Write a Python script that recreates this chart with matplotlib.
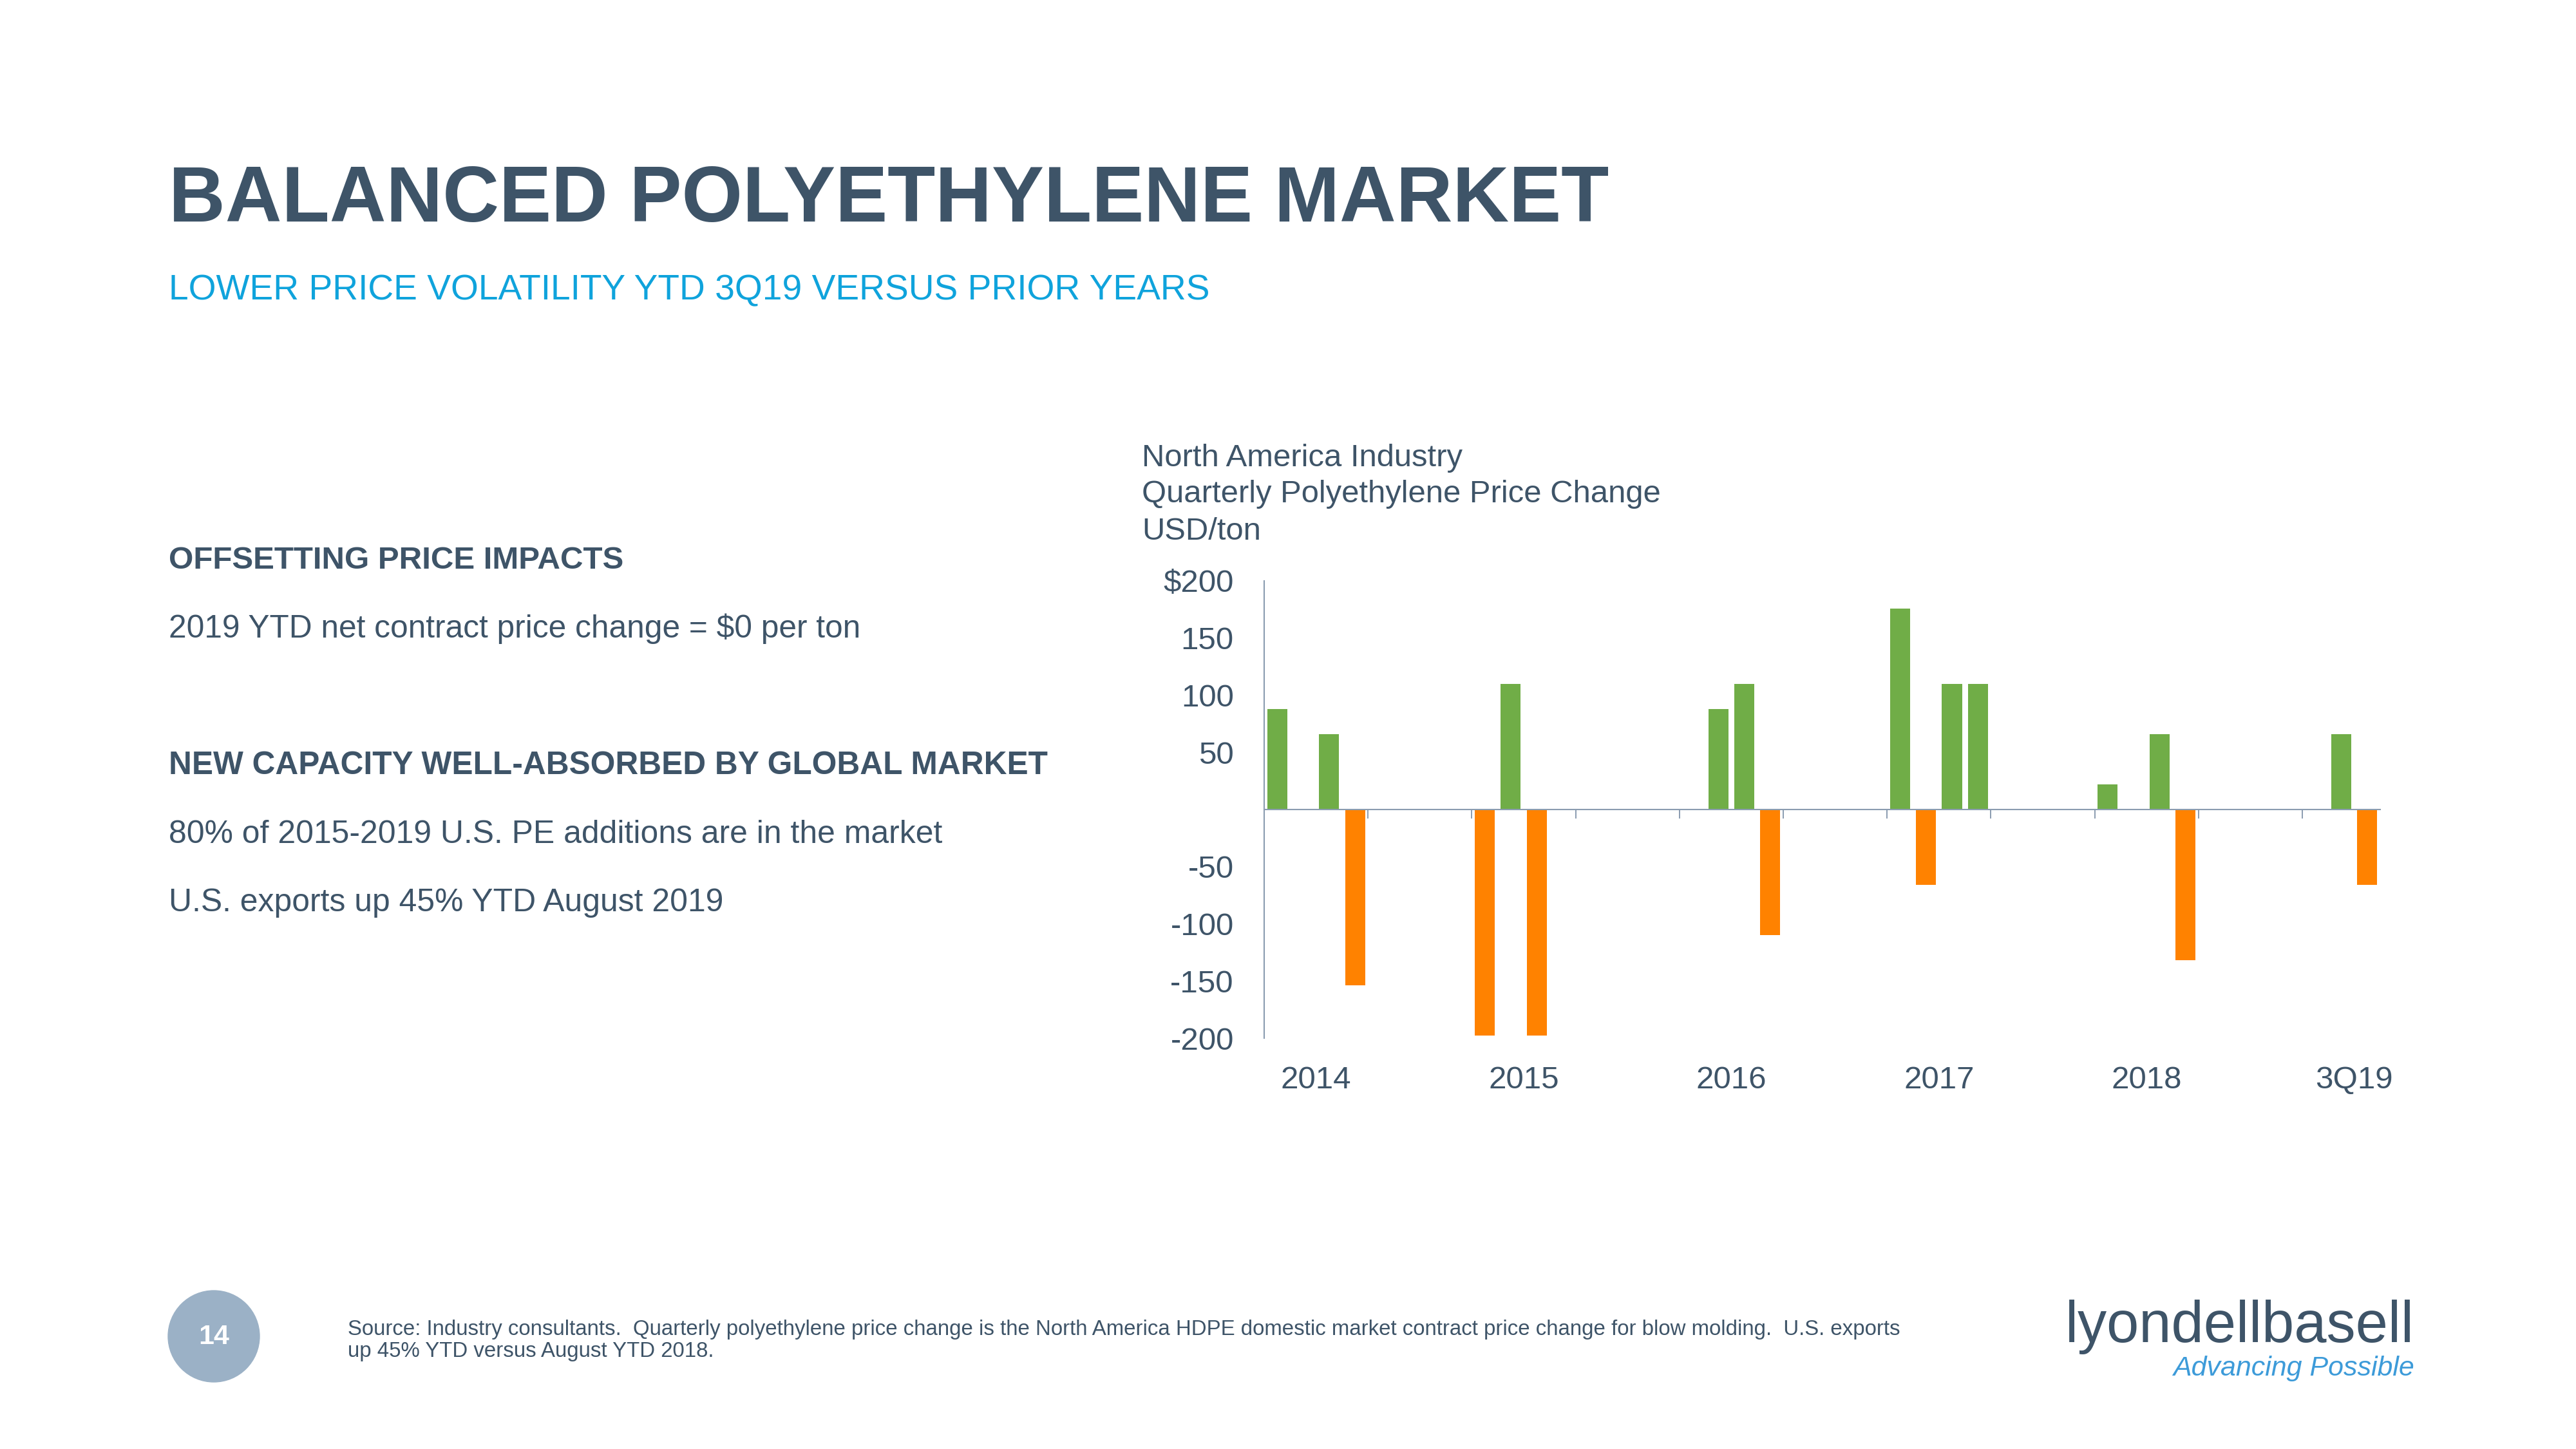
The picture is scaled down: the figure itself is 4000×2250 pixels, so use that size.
import numpy as np
import matplotlib
matplotlib.use("Agg")
import matplotlib.pyplot as plt
from matplotlib.patches import Ellipse

# quarterly PE contract price change, USD/ton
years = ["2014", "2015", "2016", "2017", "2018", "3Q19"]
q_2014 = [88, 0, 66, -154]
q_2015 = [-198, 110, -198, 0]
q_2016 = [0, 88, 110, -110]
q_2017 = [176, -66, 110, 110]
q_2018 = [22, 0, 66, -132]
q_2019 = [0, 66, -66]
quarterly = [q_2014, q_2015, q_2016, q_2017, q_2018, q_2019]

y_ticks = [200, 150, 100, 50, -50, -100, -150, -200]
y_labels = ["$200", "150", "100", "50", "-50", "-100", "-150", "-200"]

GREEN = "#70AD47"
ORANGE = "#FF8200"
DARK = "#3E5468"
CYAN = "#0FA3DC"
AXIS = "#8A9CB0"

plt.rcParams["font.family"] = ["Liberation Sans", "DejaVu Sans"]

W, H = 4000, 2250
fig = plt.figure(figsize=(40, 22.5), dpi=100)

def fx(px):
    return px / W

def fy(py):
    return 1 - py / H

# header
fig.text(fx(262), fy(344), "BALANCED POLYETHYLENE MARKET", fontsize=87.5,
         fontweight="bold", color=DARK, va="baseline")
fig.text(fx(262), fy(465), "LOWER PRICE VOLATILITY YTD 3Q19 VERSUS PRIOR YEARS",
         fontsize=39.7, color=CYAN, va="baseline")

# left hand bullets
fig.text(fx(262), fy(883), "OFFSETTING PRICE IMPACTS", fontsize=35.5,
         fontweight="bold", color=DARK, va="baseline")
fig.text(fx(262), fy(990), "2019 YTD net contract price change = $0 per ton",
         fontsize=35.7, color=DARK, va="baseline")
fig.text(fx(262), fy(1202), "NEW CAPACITY WELL-ABSORBED BY GLOBAL MARKET",
         fontsize=35.7, fontweight="bold", color=DARK, va="baseline")
fig.text(fx(262), fy(1309), "80% of 2015-2019 U.S. PE additions are in the market",
         fontsize=35.9, color=DARK, va="baseline")
fig.text(fx(262), fy(1415), "U.S. exports up 45% YTD August 2019",
         fontsize=35.9, color=DARK, va="baseline")

# chart heading
for line, base in zip(["North America Industry",
                       "Quarterly Polyethylene Price Change",
                       "USD/ton"], [724, 780, 838]):
    fig.text(fx(1773), fy(base), line, fontsize=35.3, color=DARK, va="baseline")

# chart
ax = fig.add_axes([fx(1963), fy(1612), fx(3696) - fx(1963), (1612 - 902) / H])
for i, vals in enumerate(quarterly):
    x = i * 8 + np.arange(len(vals))
    colors = [GREEN if v > 0 else ORANGE for v in vals]
    ax.bar(x, vals, width=0.77, color=colors, zorder=2)

ax.set_xlim(-0.5, 42.5)
ax.set_ylim(-200, 200)

for s in ["top", "right"]:
    ax.spines[s].set_visible(False)
ax.spines["left"].set_color(AXIS)
ax.spines["left"].set_linewidth(1.5)
ax.spines["bottom"].set_position(("data", 0))
ax.spines["bottom"].set_color(AXIS)
ax.spines["bottom"].set_linewidth(1.5)
ax.spines["bottom"].set_zorder(3)

ax.set_xticks([3.5 + 4 * k for k in range(10)])
ax.set_xticklabels([])
ax.tick_params(axis="x", direction="out", length=10, width=1.4, color=AXIS)

ax.set_yticks(y_ticks)
ax.set_yticklabels(y_labels)
ax.tick_params(axis="y", length=0, pad=34, labelsize=35.5, labelcolor=DARK)

for i, yr in enumerate(years):
    ax.annotate(yr, xy=(i * 8 + 1.5, 0), xycoords=("data", "axes fraction"),
                xytext=(0, -78 * 0.72), textcoords="offset points",
                ha="center", va="baseline", fontsize=35.5, color=DARK)

# footer
fig.patches.append(Ellipse((fx(332), fy(2075)), 142 / W, 142 / H,
                           transform=fig.transFigure, color="#9BB1C6"))
fig.text(fx(332), fy(2076), "14", fontsize=31, fontweight="bold",
         color="white", ha="center", va="center")
fig.text(fx(540), fy(2073),
         "Source: Industry consultants.  Quarterly polyethylene price change is the North America "
         "HDPE domestic market contract price change for blow molding.  U.S. exports",
         fontsize=23.8, color=DARK, va="baseline")
fig.text(fx(540), fy(2107), "up 45% YTD versus August YTD 2018.",
         fontsize=23.8, color=DARK, va="baseline")

fig.text(fx(3749), fy(2084), "lyondellbasell", fontsize=65, color=DARK,
         ha="right", va="baseline")
fig.text(fx(3749), fy(2136), "Advancing Possible", fontsize=31, style="italic",
         color="#3D9BD9", ha="right", va="baseline")

fig.savefig("out.png", dpi=100, facecolor="white")
